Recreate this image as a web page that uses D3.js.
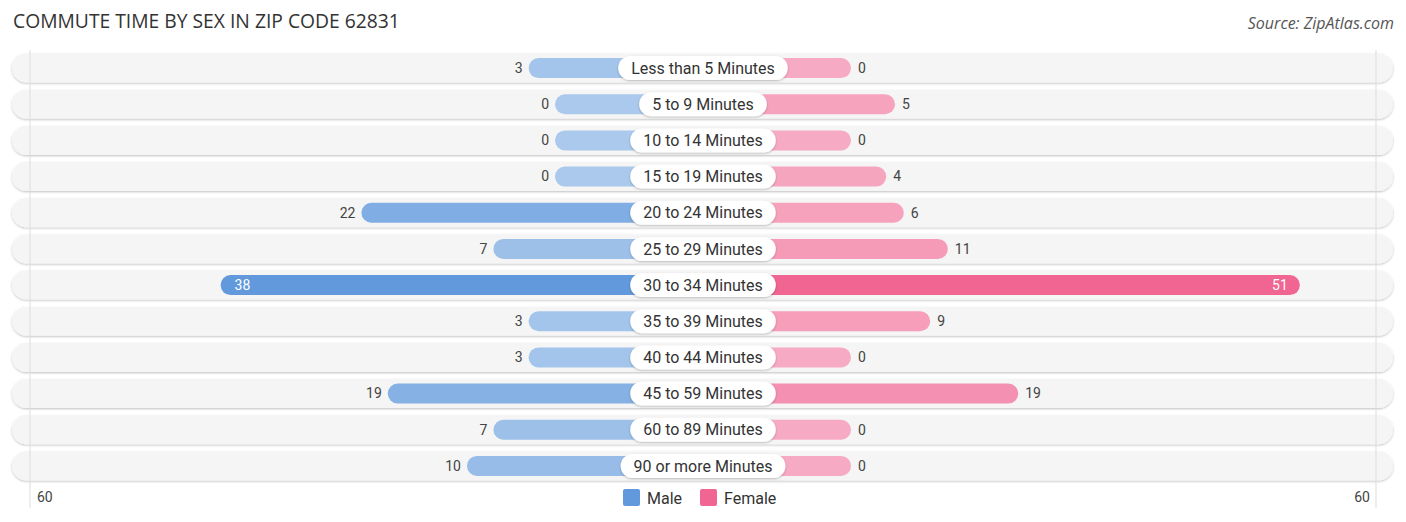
<!DOCTYPE html>
<html>
<head>
<meta charset="utf-8">
<script src="https://cdn.jsdelivr.net/npm/d3@7"></script>
<style>
  body { margin: 0; background: #fff; }
  text { font-family: Roboto, "Open Sans", sans-serif; }
</style>
</head>
<body>
<div id="chart"></div>
<script>
let categories = ["Less than 5 Minutes", "5 to 9 Minutes", "10 to 14 Minutes", "15 to 19 Minutes",
    "20 to 24 Minutes", "25 to 29 Minutes", "30 to 34 Minutes", "35 to 39 Minutes",
    "40 to 44 Minutes", "45 to 59 Minutes", "60 to 89 Minutes", "90 or more Minutes"];
let male = [3, 0, 0, 0, 22, 7, 38, 3, 3, 19, 7, 10];
let female = [0, 5, 0, 4, 6, 11, 51, 9, 0, 19, 0, 0];
let axisMax = 60;
let axisLabels = ["60", "60"];

let width = 1406, height = 522, cx = 703;

let svg = d3.select("#chart")
    .append("svg")
    .attr("width", width)
    .attr("height", height);

let x = d3.scaleLinear()
    .domain([0, axisMax])
    .range([148, 676]);

let y = d3.scaleBand()
    .domain(categories)
    .range([50, 484])
    .paddingInner(0.2)
    .paddingOuter(0.1);

let maleColor = d3.scaleLinear().domain([0, d3.max(male)]).range(["#aac9ec", "#6199dc"]);
let femaleColor = d3.scaleLinear().domain([0, d3.max(female)]).range(["#f7aac3", "#f06592"]);

let defs = svg.append("defs");
let f = defs.append("filter").attr("id", "shadow").attr("x", "-5%").attr("y", "-30%").attr("width", "110%").attr("height", "160%");
f.append("feDropShadow").attr("dx", 0).attr("dy", 1).attr("stdDeviation", 1.2).attr("flood-color", "#000").attr("flood-opacity", 0.25);

svg.append("text")
    .attr("x", 13).attr("y", 28)
    .style("font-family", "'Open Sans', sans-serif")
    .style("font-size", "19.3px")
    .style("fill", "#333")
    .text("COMMUTE TIME BY SEX IN ZIP CODE 62831");

svg.append("text")
    .attr("x", 1394).attr("y", 29)
    .attr("text-anchor", "end")
    .style("font-family", "'Open Sans', sans-serif")
    .style("font-style", "italic")
    .style("font-size", "16px")
    .style("fill", "#555")
    .text("Source: ZipAtlas.com");

let bh = y.bandwidth();

let rows = svg.selectAll(".row")
    .data(categories)
    .enter().append("g")
    .attr("class", "row")
    .attr("transform", function(d) { return "translate(0," + y(d) + ")"; });

rows.append("rect")
    .attr("x", 12).attr("y", 0)
    .attr("width", 1381).attr("height", bh)
    .attr("rx", bh / 2)
    .style("fill", "#f5f5f5")
    .attr("filter", "url(#shadow)");

// grid lines at axis max
svg.selectAll(".grid")
    .data([30, 1376])
    .enter().append("line")
    .attr("x1", function(d) { return d; }).attr("x2", function(d) { return d; })
    .attr("y1", 50).attr("y2", 508)
    .style("stroke", "#ddd")
    .style("stroke-width", 1);

let barH = 20;

rows.append("rect")
    .attr("x", function(d, i) { return cx - x(male[i]); })
    .attr("y", (bh - barH) / 2)
    .attr("width", function(d, i) { return x(male[i]); })
    .attr("height", barH)
    .attr("rx", barH / 2)
    .style("fill", function(d, i) { return maleColor(male[i]); });

rows.append("rect")
    .attr("x", cx)
    .attr("y", (bh - barH) / 2)
    .attr("width", function(d, i) { return x(female[i]); })
    .attr("height", barH)
    .attr("rx", barH / 2)
    .style("fill", function(d, i) { return femaleColor(female[i]); });

// value labels
rows.append("text")
    .attr("x", function(d, i) {
        return male[i] > 30 ? cx - x(male[i]) + 14 : cx - x(male[i]) - 6;
    })
    .attr("y", bh / 2)
    .attr("dy", "0.35em")
    .attr("text-anchor", function(d, i) { return male[i] > 30 ? "start" : "end"; })
    .style("font-size", "14px")
    .style("fill", function(d, i) { return male[i] > 30 ? "#fff" : "#444"; })
    .text(function(d, i) { return male[i]; });

rows.append("text")
    .attr("x", function(d, i) {
        return female[i] > 30 ? cx + x(female[i]) - 12 : cx + x(female[i]) + 7;
    })
    .attr("y", bh / 2)
    .attr("dy", "0.35em")
    .attr("text-anchor", function(d, i) { return female[i] > 30 ? "end" : "start"; })
    .style("font-size", "14px")
    .style("fill", function(d, i) { return female[i] > 30 ? "#fff" : "#444"; })
    .text(function(d, i) { return female[i]; });

// category pills
let pills = rows.append("g");
pills.append("text")
    .attr("x", cx)
    .attr("y", bh / 2)
    .attr("dy", "0.35em")
    .attr("text-anchor", "middle")
    .style("font-size", "16px")
    .style("fill", "#333")
    .text(function(d) { return d; });

pills.each(function() {
    let g = d3.select(this);
    let t = g.select("text").node().getComputedTextLength();
    let w = t + 26, h = 24;
    g.insert("rect", "text")
        .attr("x", cx - w / 2)
        .attr("y", bh / 2 - h / 2)
        .attr("width", w)
        .attr("height", h)
        .attr("rx", h / 2)
        .style("fill", "#fff")
        .attr("filter", "url(#shadow)");
});

// axis labels
svg.append("text")
    .attr("x", 37).attr("y", 502)
    .style("font-size", "14px").style("fill", "#444")
    .text(axisLabels[0]);
svg.append("text")
    .attr("x", 1370).attr("y", 502)
    .attr("text-anchor", "end")
    .style("font-size", "14px").style("fill", "#444")
    .text(axisLabels[1]);

// legend
let legend = [{name: "Male", color: "#6199dc", x: 623}, {name: "Female", color: "#f06592", x: 700}];
let lg = svg.selectAll(".legend")
    .data(legend)
    .enter().append("g")
    .attr("transform", function(d) { return "translate(" + d.x + ",489)"; });
lg.append("rect")
    .attr("width", 17).attr("height", 17)
    .attr("rx", 2)
    .style("fill", function(d) { return d.color; });
lg.append("text")
    .attr("x", 24).attr("y", 9)
    .attr("dy", "0.35em")
    .style("font-size", "16px").style("fill", "#333")
    .text(function(d) { return d.name; });
</script>
</body>
</html>
